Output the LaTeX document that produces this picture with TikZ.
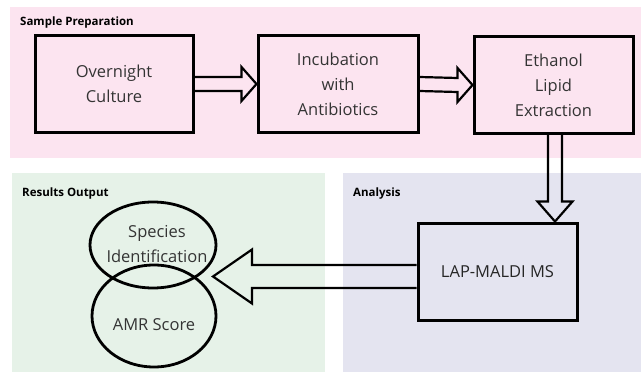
\documentclass[tikz,border=0pt]{standalone}
\usepackage{fontspec}
\setmainfont{Open Sans}
\usetikzlibrary{shapes.geometric,calc}
\definecolor{pinkbg}{RGB}{252,228,240}
\definecolor{greenbg}{RGB}{230,242,232}
\definecolor{lavbg}{RGB}{228,228,240}
\definecolor{txt}{RGB}{52,52,52}
\begin{document}
\begin{tikzpicture}[x=1pt,y=-1pt,
  panel/.style={draw=none, inner sep=0pt, outer sep=0pt, anchor=north west},
  plabel/.style={font=\fontsize{11.5}{13}\selectfont\bfseries, anchor=base west, inner sep=0pt, text=black},
  stepbox/.style={draw, line width=3pt, minimum width=158pt, minimum height=97pt, align=center,
    font=\fontsize{16.5}{25}\selectfont, text=txt, inner sep=0pt},
  oval/.style={draw, ellipse, line width=2.8pt, inner sep=0pt},
  ovaltext/.style={align=center, font=\fontsize{16.5}{25}\selectfont, text=txt, inner sep=0pt},
  fatarrow/.style={draw, line width=2.2pt, line join=miter}]
\useasboundingbox (0,0) rectangle (641,372);
\fill[white] (0,0) rectangle (641,372);
% panels
\node[panel, fill=pinkbg, minimum width=631pt, minimum height=151pt] (pprep) at (10,7) {};
\node[panel, fill=greenbg, minimum width=313pt, minimum height=199pt] (pres) at (12,173) {};
\node[panel, fill=lavbg, minimum width=298pt, minimum height=199pt] (pana) at (343,173) {};
\node[plabel] (lprep) at (20,25) {Sample Preparation};
\node[plabel] (lres) at (22,196) {Results Output};
\node[plabel] (lana) at (353,196) {Analysis};
% boxes
\node[stepbox] (b1) at (114,84) {Overnight\\Culture};
\node[stepbox, minimum width=160pt] (b2) at (338,84) {Incubation\\with\\Antibiotics};
\node[stepbox, minimum width=159pt] (b3) at (553.5,85) {Ethanol\\Lipid\\Extraction};
\node[stepbox, minimum width=159pt, text=black!85] (lap) at (497.5,271.5) {LAP-MALDI MS};
% ellipses
\node[oval, minimum width=126pt, minimum height=86pt] (sp) at (153,245) {};
\node[oval, minimum width=124pt, minimum height=102pt] (amr) at (154,316) {};
\node[ovaltext] (tsp) at (157,244.5) {Species\\Identification};
\node[ovaltext] (tamr) at (154,325) {AMR Score};
% arrows
\draw[fatarrow] ($(b1.east)+(0,-7)$) -- ($(b2.west)+(-15,-7)$) -- ($(b2.west)+(-15,-17)$) -- (b2.west)
  -- ($(b2.west)+(-15,17)$) -- ($(b2.west)+(-15,7)$) -- ($(b1.east)+(0,7)$);
\draw[fatarrow] ($(b2.east)+(0,-7)$) -- ($(b3.west)+(-15,-7)$) -- ($(b3.west)+(-15,-17)$) -- (b3.west)
  -- ($(b3.west)+(-15,17)$) -- ($(b3.west)+(-15,7)$) -- ($(b2.east)+(0,7)$);
\coordinate (dtop) at ($(b3.south)+(1.5,0)$);
\coordinate (dtip) at (dtop |- lap.north);
\draw[fatarrow] ($(dtop)+(-7,0)$) -- ($(dtip)+(-7,-20)$) -- ($(dtip)+(-17.5,-20)$) -- (dtip)
  -- ($(dtip)+(17.5,-20)$) -- ($(dtip)+(7,-20)$) -- ($(dtop)+(7,0)$);
\coordinate (lstart) at ($(lap.west)+(0,5)$);
\coordinate (ltip) at (213,276.5);
\draw[fatarrow] ($(lstart)+(0,-11.5)$) -- ($(ltip)+(39,-11.5)$) -- ($(ltip)+(39,-27)$) -- (ltip)
  -- ($(ltip)+(39,27)$) -- ($(ltip)+(39,11.5)$) -- ($(lstart)+(0,11.5)$);
\end{tikzpicture}
\end{document}
